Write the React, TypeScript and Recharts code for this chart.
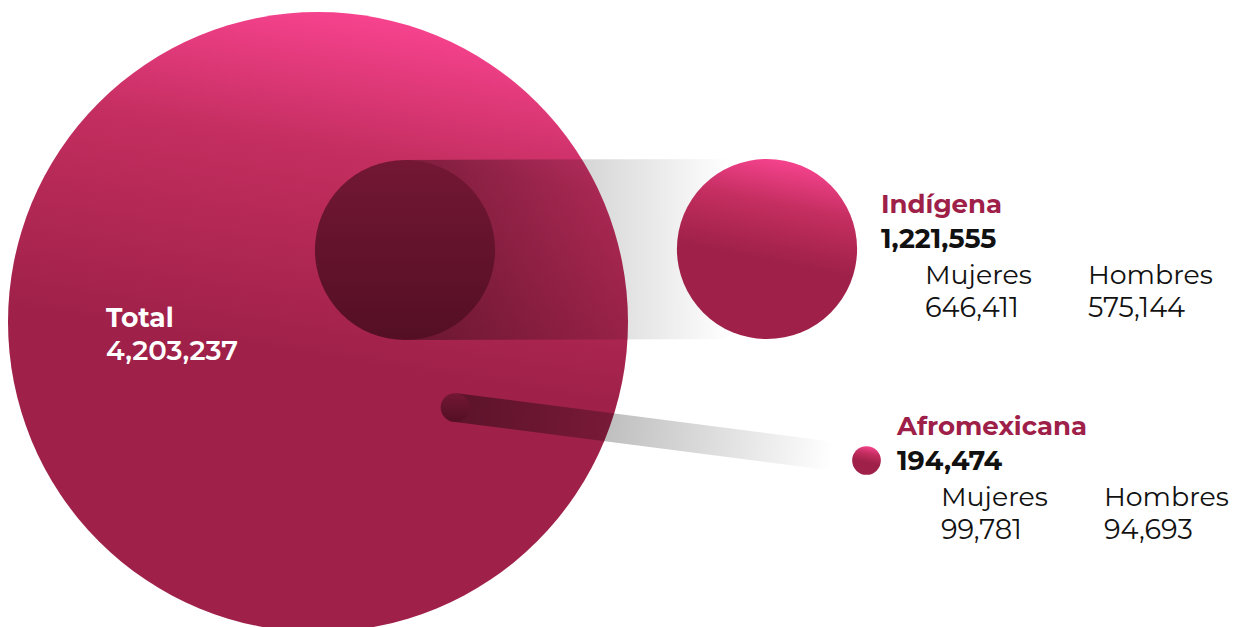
import React from 'react';
import { ScatterChart, Scatter, XAxis, YAxis, ZAxis } from 'recharts';

// ---------- data ----------
const categories = ['Total', 'Indígena', 'Afromexicana'];
const populations = [4203237, 1221555, 194474];
const mujeres = [null, 646411, 99781];
const hombres = [null, 575144, 94693];
const subLabels = ['Mujeres', 'Hombres'];

// ---------- layout (chart units == pixels) ----------
const W = 1233;
const H = 627;
const MAX_R = 310;
const totalCenter = { x: 318, y: 322 };
const innerCenters = [null, { x: 405, y: 250 }, { x: 455, y: 407.5 }];
const outerCenters = [null, { x: 767, y: 249 }, { x: 866.5, y: 460.5 }];
const labelAnchors = [
  { x: 106, y: 327 },
  { x: 881, y: 213 },
  { x: 897, y: 435 },
];
const FONT = "Montserrat, 'Open Sans', 'Noto Sans', sans-serif";

const fmt = (v: number) => v.toLocaleString('en-US');

const totalData = [{ x: totalCenter.x, y: totalCenter.y, z: populations[0] }];
const innerData = [1, 2].map((i) => ({
  x: innerCenters[i]!.x,
  y: innerCenters[i]!.y,
  z: populations[i],
  tx: outerCenters[i]!.x,
  ty: outerCenters[i]!.y,
  idx: i,
}));
const outerData = [1, 2].map((i) => ({
  x: outerCenters[i]!.x,
  y: outerCenters[i]!.y,
  z: populations[i],
  idx: i,
}));
const labelData = categories.map((c, i) => ({
  x: labelAnchors[i].x,
  y: labelAnchors[i].y,
  z: 0,
  name: c,
  value: populations[i],
  m: mujeres[i],
  h: hombres[i],
  idx: i,
}));

const radiusOf = (p: any) =>
  typeof p.size === 'number' && p.size > 0 ? p.size : (p.payload.z / populations[0]) * MAX_R;

const TotalShape = (p: any) => {
  const r = radiusOf(p);
  return (
    <g>
      <defs>
        <linearGradient id="gTotal" x1="0.56" y1="0" x2="0.47" y2="0.55">
          <stop offset="0" stopColor="#F8438F" />
          <stop offset="0.4" stopColor="#C42E60" />
          <stop offset="1" stopColor="#9F2149" />
        </linearGradient>
      </defs>
      <circle cx={p.cx} cy={p.cy} r={r} fill="url(#gTotal)" />
    </g>
  );
};

const InnerShape = (p: any) => {
  const r = radiusOf(p);
  const pl = p.payload;
  const dx = p.cx - pl.x;
  const dy = p.cy - pl.y;
  const tx = pl.tx + dx;
  const ty = pl.ty + dy;
  const ang = Math.atan2(ty - p.cy, tx - p.cx);
  const len = Math.hypot(tx - p.cx, ty - p.cy);
  const nx = -Math.sin(ang) * r;
  const ny = Math.cos(ang) * r;
  const pts = [
    [p.cx + nx, p.cy + ny],
    [tx + nx, ty + ny],
    [tx - nx, ty - ny],
    [p.cx - nx, p.cy - ny],
  ]
    .map((q) => q.join(','))
    .join(' ');
  const big = pl.idx === 1;
  const endFrac = big ? 0.9 : 0.92;
  const startOp = big ? 0.36 : 0.42;
  const gid = `band${pl.idx}`;
  const cid = `inner${pl.idx}`;
  return (
    <g>
      <defs>
        <linearGradient
          id={gid}
          gradientUnits="userSpaceOnUse"
          x1={p.cx}
          y1={p.cy}
          x2={p.cx + Math.cos(ang) * len * endFrac}
          y2={p.cy + Math.sin(ang) * len * endFrac}
        >
          <stop offset="0" stopColor="#000" stopOpacity={startOp} />
          <stop offset="1" stopColor="#000" stopOpacity={0} />
        </linearGradient>
        <linearGradient id={cid} x1="0" y1="0" x2="0" y2="1">
          <stop offset="0" stopColor="#731735" />
          <stop offset="1" stopColor="#540F24" />
        </linearGradient>
      </defs>
      <polygon points={pts} fill={`url(#${gid})`} />
      <circle cx={p.cx} cy={p.cy} r={r} fill={`url(#${cid})`} />
    </g>
  );
};

const OuterShape = (p: any) => {
  const r = radiusOf(p);
  const gid = `outer${p.payload.idx}`;
  return (
    <g>
      <defs>
        <linearGradient id={gid} x1="0.58" y1="0" x2="0.47" y2="0.55">
          <stop offset="0" stopColor="#F6438E" />
          <stop offset="0.45" stopColor="#C42E60" />
          <stop offset="1" stopColor="#9F2149" />
        </linearGradient>
      </defs>
      <circle cx={p.cx} cy={p.cy} r={r} fill={`url(#${gid})`} />
    </g>
  );
};

const LabelShape = (p: any) => {
  const pl = p.payload;
  const x = p.cx;
  const y = p.cy;
  if (pl.idx === 0) {
    return (
      <g fontFamily={FONT} fill="#FFFFFF">
        <text x={x} y={y} fontSize={26.5} fontWeight={700}>
          {pl.name}
        </text>
        <text x={x} y={y + 33} fontSize={27.5} fontWeight={600}>
          {fmt(pl.value)}
        </text>
      </g>
    );
  }
  return (
    <g fontFamily={FONT}>
      <text x={x} y={y} fontSize={26} fontWeight={700} fill="#9E2049">
        {pl.name}
      </text>
      <text x={x} y={y + 35} fontSize={27} fontWeight={700} fill="#111111">
        {fmt(pl.value)}
      </text>
      <text x={x + 44} y={y + 71} fontSize={26.8} fontWeight={400} fill="#111111">
        {subLabels[0]}
      </text>
      <text x={x + 44} y={y + 104} fontSize={27.2} fontWeight={400} fill="#111111">
        {fmt(pl.m)}
      </text>
      <text x={x + 207} y={y + 71} fontSize={26.8} fontWeight={400} fill="#111111">
        {subLabels[1]}
      </text>
      <text x={x + 207} y={y + 104} fontSize={27.2} fontWeight={400} fill="#111111">
        {fmt(pl.h)}
      </text>
    </g>
  );
};

export default function App() {
  return (
    <div style={{ position: 'absolute', left: 0, top: 0, width: W, height: H, background: '#fff' }}>
      <ScatterChart width={W} height={H} margin={{ top: 0, right: 0, bottom: 0, left: 0 }}>
        <XAxis type="number" dataKey="x" domain={[0, W]} hide allowDataOverflow />
        <YAxis type="number" dataKey="y" domain={[0, H]} reversed hide allowDataOverflow />
        <ZAxis type="number" dataKey="z" domain={[0, populations[0]]} range={[0, MAX_R]} />
        <Scatter data={totalData} shape={TotalShape} isAnimationActive={false} />
        <Scatter data={innerData} shape={InnerShape} isAnimationActive={false} />
        <Scatter data={outerData} shape={OuterShape} isAnimationActive={false} />
        <Scatter data={labelData} shape={LabelShape} isAnimationActive={false} />
      </ScatterChart>
    </div>
  );
}
